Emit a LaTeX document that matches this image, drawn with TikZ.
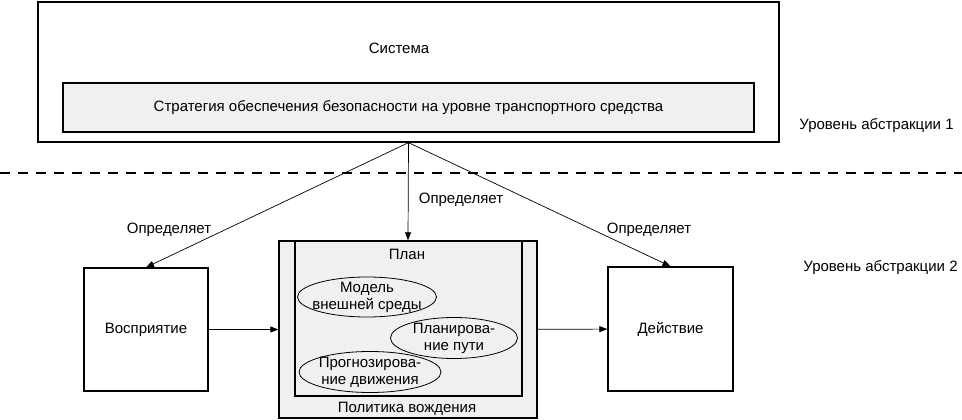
\documentclass[tikz,border=0pt]{standalone}
\usepackage{fontspec}
\setmainfont{Liberation Sans}
\usetikzlibrary{arrows.meta,shapes.geometric}
\definecolor{paneGrey}{HTML}{F0F0F0}

\begin{document}
\begin{tikzpicture}[x=1pt,y=-1pt,line width=1.3pt,
    every node/.style={inner sep=1pt,font=\fontsize{15}{17}\selectfont},
    block/.style={draw,inner sep=0pt},
    pane/.style={block,fill=paneGrey},
    oval/.style={draw,ellipse,line width=0.8pt,inner sep=0pt},
    link/.style={->,line width=0.7pt},
    >={Triangle[length=8pt,width=6pt]}]
    \useasboundingbox(0,0)rectangle(962,420);
    % abstraction level 1
    \node[block,minimum width=741pt,minimum height=140pt](sys)at(408.5,72){};
    \node(systxt)at(399,48){Система};
    \node[pane,minimum width=691pt,minimum height=49pt](strat)at(408.5,107.5)
        {Стратегия обеспечения безопасности на уровне транспортного средства};
    \node(lvl1)at(876.5,126){Уровень абстракции 1};
    \coordinate(dl)at(0,173);
    \coordinate(dr)at(962,173);
    \draw[line width=1.6pt,dash pattern=on 10pt off 8pt](dl)--(dr);
    % abstraction level 2
    \node(lvl2)at(880.5,268){Уровень абстракции 2};
    \node[block,minimum width=124pt,minimum height=123pt](percep)at(146,329.5)
        {Восприятие};
    \node[block,minimum width=125pt,minimum height=124pt](act)at(670.5,329)
        {Действие};
    \node[pane,minimum width=258pt,minimum height=177pt](policy)at(408,329.5){};
    \node[pane,minimum width=227pt,minimum height=155pt](plan)at(408.5,318.5){};
    \node(plantxt)at(407,254){План};
    \node(policytxt)at(407,409){Политика вождения};
    \node[oval,minimum width=139pt,minimum height=40pt](world)at(367,297){};
    \node[oval,minimum width=127pt,minimum height=41pt](path)at(454,338){};
    \node[oval,minimum width=142pt,minimum height=41pt](motion)at(370,372){};
    \node[align=center](worldtxt)at(world){Модель\\внешней среды};
    \node[align=center](pathtxt)at(path){Планирова-\\ние пути};
    \node[align=center](motiontxt)at(motion){Прогнозирова-\\ние движения};
    % connectors
    \draw[link](sys.south)--(percep.north);
    \draw[link](sys.south)--(policy.north);
    \draw[link](sys.south)--(act.north);
    \draw[link](percep)--(policy);
    \draw[link](policy)--(act);
    \node(defl)at(169,230){Определяет};
    \node(defm)at(461,200){Определяет};
    \node(defr)at(649,230){Определяет};
\end{tikzpicture}
\end{document}
